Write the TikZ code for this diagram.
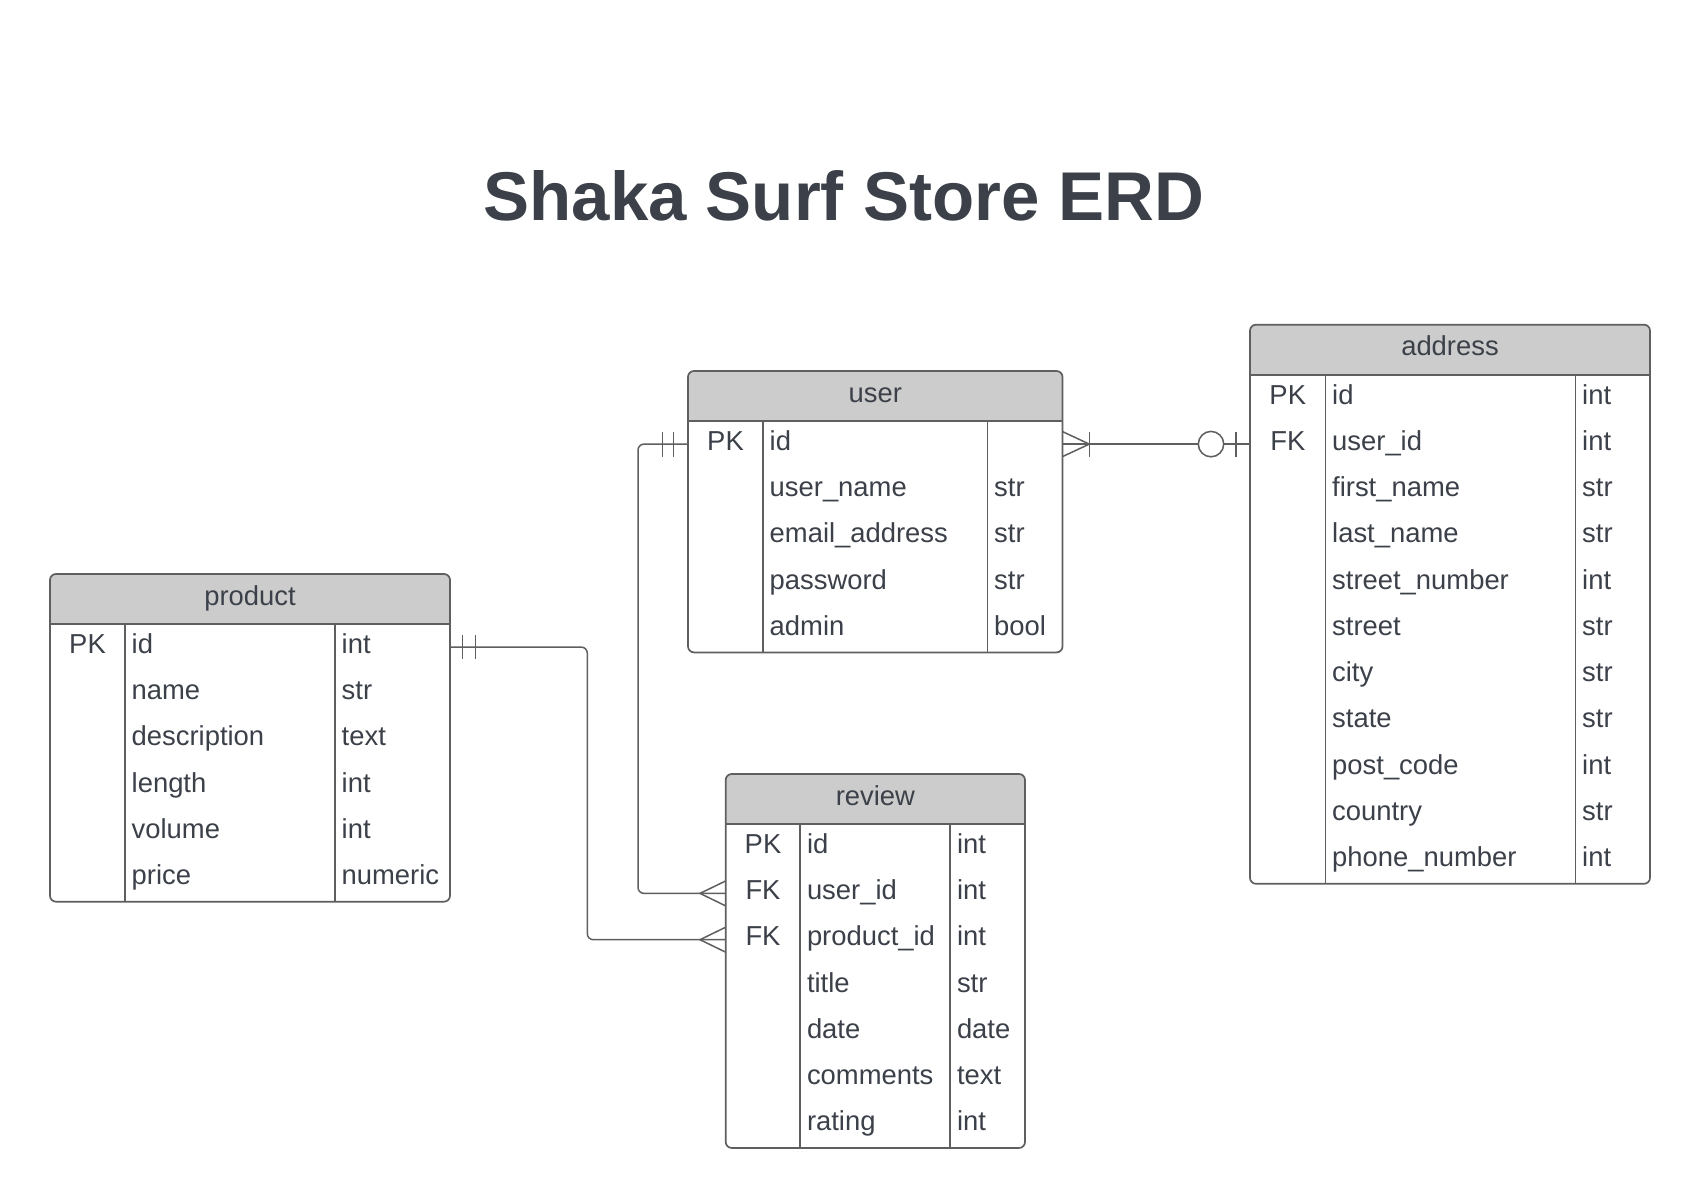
\documentclass[tikz,border=0pt]{standalone}
\usepackage{fontspec}
\setmainfont{Liberation Sans}
\usetikzlibrary{calc}
\definecolor{txt}{HTML}{3B4049}
\definecolor{ln}{HTML}{5F5F5F}
\definecolor{hdr}{HTML}{CCCCCC}
\tikzset{
  boxline/.style={draw=ln, line width=1.7pt},
  conn/.style={draw=ln, line width=1.5pt},
  hdrtext/.style={anchor=base, inner sep=0pt, text=txt, font=\fontsize{27.4}{32}\selectfont},
  keytext/.style={anchor=base, inner sep=0pt, text=txt, font=\fontsize{27.4}{32}\selectfont},
  fieldtext/.style={anchor=base west, inner sep=0pt, text=txt, font=\fontsize{27.4}{32}\selectfont},
  titletext/.style={anchor=base, inner sep=0pt, text=txt, font=\fontsize{69}{80}\selectfont\bfseries},
}
% #1 name, #2 title, #3 left, #4 top, #5 width, #6 col1 offset, #7 col2 offset, #8 rows, #9 list
\newcommand\erent[9]{%
  \pgfmathsetmacro\eL{#3}\pgfmathsetmacro\eT{#4}%
  \pgfmathsetmacro\eR{#3+#5}\pgfmathsetmacro\eH{#4+50}%
  \pgfmathsetmacro\eB{#4+50+#8*46.28}%
  \pgfmathsetmacro\eA{#3+#6}\pgfmathsetmacro\eC{#3+#7}%
  \begin{scope}
    \clip[rounded corners=6pt] (\eL,\eT) rectangle (\eR,\eB);
    \fill[hdr] (\eL,\eT) rectangle (\eR,\eH);
  \end{scope}
  \draw[boxline, rounded corners=6pt] (\eL,\eT) rectangle (\eR,\eB);
  \draw[boxline] (\eL,\eH) -- (\eR,\eH) (\eA,\eH) -- (\eA,\eB) (\eC,\eH) -- (\eC,\eB);
  \node[hdrtext] (#1-title) at ({(\eL+\eR)/2},\eT+31) {#2};
  \foreach \k/\f/\t [count=\i from 0] in {#9} {
    \pgfmathsetmacro\by{\eH+\i*46.28+29.3}
    \node[keytext] (#1-k\i) at ({(\eL+\eA)/2},\by) {\k};
    \node[fieldtext] (#1-f\i) at (\eA+6.5,\by) {\f};
    \node[fieldtext] (#1-t\i) at (\eC+6.5,\by) {\t};
  }
}
\begin{document}
\begin{tikzpicture}[x=1pt,y=-1pt]
\useasboundingbox (0,0) rectangle (1700,1198);
\fill[white] (0,0) rectangle (1700,1198);

\node[titletext] (title) at (844,221) {Shaka Surf Store ERD};

\erent{product}{product}{50}{574}{400}{75}{285}{6}{PK/id/int, {}/name/str, {}/description/text, {}/length/int, {}/volume/int, {}/price/numeric}
\erent{user}{user}{688}{371}{374.5}{75}{299.5}{5}{PK/id/{}, {}/user\_name/str, {}/email\_address/str, {}/password/str, {}/admin/bool}
\erent{address}{address}{1250}{324.7}{400}{75.5}{325.5}{11}{PK/id/int, FK/user\_id/int, {}/first\_name/str, {}/last\_name/str, {}/street\_number/int, {}/street/str, {}/city/str, {}/state/str, {}/post\_code/int, {}/country/str, {}/phone\_number/int}
\erent{review}{review}{725.7}{774}{299.3}{74.6}{224.6}{7}{PK/id/int, FK/user\_id/int, FK/product\_id/int, {}/title/str, {}/date/date, {}/comments/text, {}/rating/int}

% connection points
\coordinate (uW) at (688,444.1);
\coordinate (uE) at (1062.5,444.1);
\coordinate (aW) at (1250,444.1);
\coordinate (pE) at (450,647.1);
\coordinate (rU) at (725.7,893.4);
\coordinate (rP) at (725.7,939.7);

% user -- review
\draw[conn, rounded corners=6pt] (uW) -- (uW -| 638,0) -- (rU -| 638,0) -- (rU);
\draw[conn] ($(uW)+(-14.5,-12.5)$) -- ($(uW)+(-14.5,12.5)$);
\draw[conn] ($(uW)+(-25.5,-12.5)$) -- ($(uW)+(-25.5,12.5)$);
\draw[conn] ($(rU)+(0,-12.5)$) -- ($(rU)+(-25.7,0)$) -- ($(rU)+(0,12.5)$);

% product -- review
\draw[conn, rounded corners=6pt] (pE) -- (pE -| 587.3,0) -- (rP -| 587.3,0) -- (rP);
\draw[conn] ($(pE)+(12.7,-12)$) -- ($(pE)+(12.7,12)$);
\draw[conn] ($(pE)+(25.3,-12)$) -- ($(pE)+(25.3,12)$);
\draw[conn] ($(rP)+(0,-12.5)$) -- ($(rP)+(-25.7,0)$) -- ($(rP)+(0,12.5)$);

% user -- address
\draw[conn] (uE) -- (aW);
\draw[conn] ($(uE)+(0,-12.5)$) -- ($(uE)+(26.8,0)$) -- ($(uE)+(0,12.5)$);
\draw[conn] ($(uE)+(26.8,-12.5)$) -- ($(uE)+(26.8,12.5)$);
\draw[conn, fill=white] ($(aW)+(-39,0)$) circle[radius=12.7pt];
\draw[conn] ($(aW)+(-14,-12.5)$) -- ($(aW)+(-14,12.5)$);
\end{tikzpicture}
\end{document}
